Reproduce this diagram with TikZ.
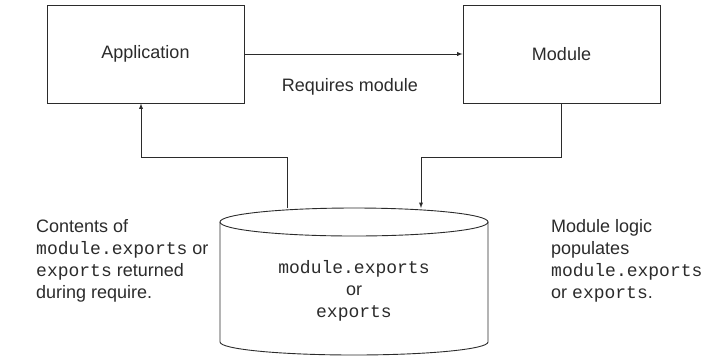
\documentclass[tikz,border=0pt]{standalone}
\usepackage{fontspec}
\setmainfont{Liberation Sans}
\setmonofont{Liberation Mono}
\usetikzlibrary{calc}
\tikzset{>=latex}
\definecolor{ink}{HTML}{2B2B2B}
\newcommand{\mcode}[1]{{\ttfamily\fontsize{18}{22}\selectfont #1}}

\begin{document}
\begin{tikzpicture}
        [
         x=1pt, y=-1pt, % pixel coordinates, y downwards
         every node/.style={text=ink, font=\fontsize{18}{22}\selectfont},
         box/.style={draw=ink, line width=0.9pt, minimum width=197pt, minimum height=98pt},
         note/.style={align=left, anchor=north west, inner sep=0pt},
         link/.style={->, draw=ink, line width=0.9pt}
        ]
         \useasboundingbox (0,0) rectangle (706,357);
         \node[box] (app) at (145.5,54) {Application};
         \node[box] (mod) at (561.5,54) {Module};
         \node (req) at (350,87) {Requires module};
         % the store: a cylinder drawn by hand
         \draw[draw=ink, line width=0.9pt]
                (220,222) -- (220,342)
                arc[start angle=180, end angle=0, x radius=134, y radius=13]
                -- (488,222);
         \draw[draw=ink, line width=0.9pt] (354,222) ellipse [x radius=134, y radius=14];
         \coordinate (storeL) at (287,208);
         \coordinate (storeR) at (421,208);
         \node[align=center, inner sep=0pt] (store) at (354,291)
                {\mcode{module.exports}\\or\\\mcode{exports}};
         % connectors
         \draw[link] (app) -- (mod);
         \draw[link] (mod.south) -- ++(0,54) -| (storeR);
         \draw[link] (storeL) -- ++(0,-51) -| ([xshift=-4.5pt]app.south);
         % side notes
         \node[note] (back) at (36,219)
                {Contents of\\\mcode{module.exports} or\\\mcode{exports} returned\\during require.};
         \node[note] (fill) at (551,219)
                {Module logic\\populates\\\mcode{module.exports}\\or \mcode{exports}.};
\end{tikzpicture}
\end{document}
